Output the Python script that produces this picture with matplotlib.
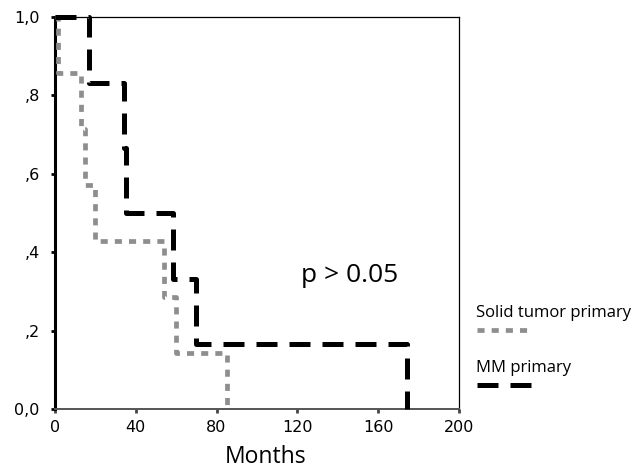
import matplotlib
matplotlib.use("Agg")
from matplotlib import pyplot as plt
from matplotlib.lines import Line2D

# Kaplan-Meier steps
solidMonths = [0, 1.5, 13, 15, 20, 54, 60, 85]
solidSurv = [1.0, 0.857, 0.714, 0.571, 0.429, 0.286, 0.143, 0.0]
mmMonths = [0, 17, 34, 35, 58.5, 70, 174.5]
mmSurv = [1.0, 0.833, 0.667, 0.5, 0.333, 0.167, 0.0]

xTicks = [0, 40, 80, 120, 160, 200]
yTicks = [0.0, 0.2, 0.4, 0.6, 0.8, 1.0]
yTickLabels = ["0,0", ",2", ",4", ",6", ",8", "1,0"]

grey = "#8e8e8e"

fig = plt.figure(figsize=(6.36, 4.73), dpi=100)
ax = fig.add_axes([0.0865, 0.135, 0.635, 0.829])

ax.plot(solidMonths, solidSurv, drawstyle="steps-post", color=grey,
        lw=3.4, dashes=(1.5, 1.5), dash_capstyle="butt", clip_on=False,
        zorder=3)
ax.plot(mmMonths, mmSurv, drawstyle="steps-post", color="black",
        lw=3.6, dashes=(4.2, 2.4), dash_capstyle="butt", clip_on=False,
        zorder=4)

ax.set_xlim(0, 200)
ax.set_ylim(0, 1)
ax.set_xticks(xTicks)
ax.set_yticks(yTicks)
ax.set_yticklabels(yTickLabels)
for lbl in ax.get_xticklabels() + ax.get_yticklabels():
    lbl.set_family("DejaVu Sans")
    lbl.set_fontsize(11.5)
ax.tick_params(axis="y", length=3, width=2, pad=8)
ax.tick_params(axis="x", length=3, width=2, pad=5, color="#444444")

ax.spines["left"].set_linewidth(2.2)
ax.spines["bottom"].set_linewidth(1.4)
ax.spines["bottom"].set_color("#555555")
ax.spines["top"].set_linewidth(0.9)
ax.spines["right"].set_linewidth(0.9)

ax.text(0.61, 0.34, "p > 0.05", transform=ax.transAxes,
        family="Open Sans", fontsize=19, ha="left", va="center")

fig.text(0.418, 0.033, "Months", family="Open Sans", fontsize=16.5,
         ha="center", va="center")

# legend, text above a sample line
fig.text(0.748, 0.338, "Solid tumor primary", family="Open Sans",
         fontsize=12, ha="left", va="center")
fig.add_artist(Line2D([0.750, 0.834], [0.302, 0.302], color=grey, lw=3.4,
                      dashes=(1.5, 1.5), dash_capstyle="butt"))
fig.text(0.748, 0.222, "MM primary", family="Open Sans",
         fontsize=12, ha="left", va="center")
fig.add_artist(Line2D([0.750, 0.835], [0.186, 0.186], color="black", lw=3.6,
                      dashes=(4.2, 2.4), dash_capstyle="butt"))

fig.savefig("out.png", dpi=100)
